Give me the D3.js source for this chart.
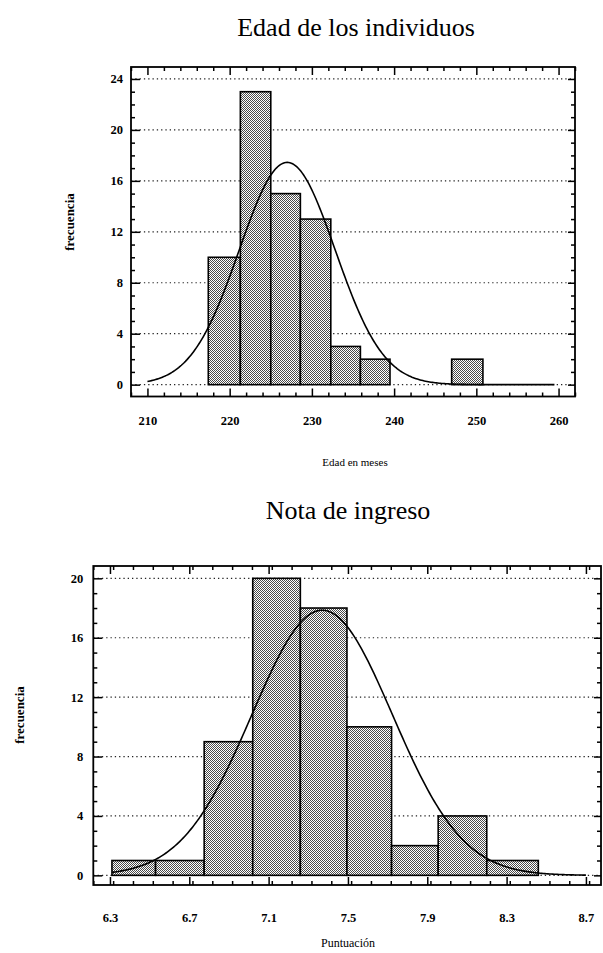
<!DOCTYPE html>
<html><head><meta charset="utf-8">
<script src="https://cdn.jsdelivr.net/npm/d3@7/dist/d3.min.js"></script>
<style>
body{margin:0;background:#fff;}
svg{display:block;}
.tick text{font-family:"Liberation Serif","Times New Roman",serif;font-weight:bold;font-size:12.5px;fill:#000;}
.domain{display:none;}
</style></head>
<body>
<svg id="c" width="603" height="953"></svg>
<script>
// ---------- Data: Edad de los individuos ----------
const edadEdges = [217.4, 221.3, 225.0, 228.6, 232.3, 235.9, 239.5, 243.2, 247.0, 250.8];
const edadCounts = [10, 23, 15, 13, 3, 2, 0, 0, 2];
const edadXTicks = [210, 220, 230, 240, 250, 260];
const edadYTicks = [0, 4, 8, 12, 16, 20, 24];
const edadFit = {n: 68, binWidth: 3.75, mean: 227.0, sd: 5.83, from: 210, to: 259.5};

// ---------- Data: Nota de ingreso ----------
const notaEdges = [6.31, 6.53, 6.775, 7.02, 7.26, 7.495, 7.72, 7.955, 8.2, 8.46];
const notaCounts = [1, 1, 9, 20, 18, 10, 2, 4, 1];
const notaXTicks = [6.3, 6.7, 7.1, 7.5, 7.9, 8.3, 8.7];
const notaYTicks = [0, 4, 8, 12, 16, 20];
const notaFit = {n: 66, binWidth: 0.24, mean: 7.37, sd: 0.354, from: 6.31, to: 8.7};

const svg = d3.select("#c");
const defs = svg.append("defs");
const pat = defs.append("pattern").attr("id","stip").attr("width",2).attr("height",2)
  .attr("patternUnits","userSpaceOnUse");
pat.append("rect").attr("width",2).attr("height",2).attr("fill","#fff");
pat.append("rect").attr("x",0).attr("y",0).attr("width",1).attr("height",1).attr("fill","#4a4a4a");
pat.append("rect").attr("x",1).attr("y",1).attr("width",1).attr("height",1).attr("fill","#4a4a4a");

function histogram(cfg){
  const g = svg.append("g");
  const x = d3.scaleLinear().domain(cfg.xDomain).range([cfg.left, cfg.right]);
  const y = d3.scaleLinear().domain(cfg.yDomain).range([cfg.bottom, cfg.top]);

  // dotted gridlines
  g.selectAll("line.grid").data(cfg.yTicks).enter().append("line")
    .attr("x1", cfg.left).attr("x2", cfg.right)
    .attr("y1", d=>y(d)).attr("y2", d=>y(d))
    .attr("stroke","#222").attr("stroke-width",1.2).attr("stroke-dasharray","1.3,3");

  // bars
  const bins = cfg.counts.map((c,i)=>({x0:cfg.edges[i], x1:cfg.edges[i+1], c}));
  g.selectAll("rect.bar").data(bins.filter(b=>b.c>0)).enter().append("rect")
    .attr("x", d=>x(d.x0)).attr("width", d=>x(d.x1)-x(d.x0))
    .attr("y", d=>y(d.c)).attr("height", d=>y(0)-y(d.c))
    .attr("fill","url(#stip)").attr("stroke","#000").attr("stroke-width",1.6);

  // fitted normal curve
  const f = cfg.fit;
  const step = (f.to - f.from)/300;
  const pts = d3.range(f.from, f.to + step/2, step).map(v=>{
    const z = (v - f.mean)/f.sd;
    return [v, f.n*f.binWidth*Math.exp(-0.5*z*z)/(f.sd*Math.sqrt(2*Math.PI))];
  });
  g.append("path").datum(pts)
    .attr("d", d3.line().x(d=>x(d[0])).y(d=>y(d[1])))
    .attr("fill","none").attr("stroke","#000").attr("stroke-width",1.6);

  // frame
  g.append("rect").attr("x",cfg.left).attr("y",cfg.top)
    .attr("width",cfg.right-cfg.left).attr("height",cfg.bottom-cfg.top)
    .attr("fill","none").attr("stroke","#000").attr("stroke-width",1.8);

  const yMinor = d3.range(Math.ceil(cfg.yDomain[0]), Math.floor(cfg.yDomain[1])+1, 1).filter(v=>!cfg.yTicks.includes(v));
  const xMinor = d3.range(cfg.xDomain[0], cfg.xDomain[1]+1e-9, cfg.xMinorStep)
    .map(v=>+v.toFixed(3)).filter(v=>v>=cfg.xDomain[0] && !cfg.xTicks.some(t=>Math.abs(t-v)<1e-6));

  function ax(axisFn, scale, vals, size, pos, labels, pad, fmt){
    const a = axisFn(scale).tickValues(vals).tickSize(size).tickPadding(pad);
    if(!labels) a.tickFormat("");
    else a.tickFormat(fmt);
    const s = g.append("g").attr("transform", pos).call(a);
    s.selectAll(".tick line").attr("stroke","#000").attr("stroke-width",1.5);
    return s;
  }
  // left
  ax(d3.axisLeft, y, cfg.yTicks, -9, `translate(${cfg.left},0)`, true, cfg.yPad, d3.format("d"));
  ax(d3.axisLeft, y, yMinor, -4, `translate(${cfg.left},0)`, false, 0);
  // right
  ax(d3.axisRight, y, cfg.yTicks, -7, `translate(${cfg.right},0)`, false, 0);
  ax(d3.axisRight, y, yMinor, -4, `translate(${cfg.right},0)`, false, 0);
  // bottom
  ax(d3.axisBottom, x, cfg.xTicks, -8, `translate(0,${cfg.bottom})`, true, cfg.xPad, cfg.xFmt);
  ax(d3.axisBottom, x, xMinor, -4, `translate(0,${cfg.bottom})`, false, 0);
  // top
  ax(d3.axisTop, x, cfg.xTicks, -8, `translate(0,${cfg.top})`, false, 0);
  ax(d3.axisTop, x, xMinor, -4, `translate(0,${cfg.top})`, false, 0);

  // titles
  svg.append("text").attr("x",cfg.titleX).attr("y",cfg.titleY).attr("text-anchor","middle")
    .attr("font-family","'Liberation Serif','Times New Roman',serif").attr("font-size",26)
    .text(cfg.title);
  svg.append("text").attr("x",cfg.xTitleX).attr("y",cfg.xTitleY).attr("text-anchor","middle")
    .attr("font-family","'Liberation Serif','Times New Roman',serif").attr("font-size",cfg.xTitleSize)
    .text(cfg.xTitle);
  svg.append("text").attr("transform",`translate(${cfg.yTitleX},${cfg.yTitleY}) rotate(-90)`)
    .attr("text-anchor","middle")
    .attr("font-family","'Liberation Serif','Times New Roman',serif").attr("font-size",13)
    .attr("font-weight","bold")
    .text("frecuencia");
}

histogram({
  left:131, right:575, top:67, bottom:396.5,
  xDomain:[208, 262], yDomain:[-0.93, 24.94],
  edges:edadEdges, counts:edadCounts, xTicks:edadXTicks, yTicks:edadYTicks,
  xMinorStep:2, fit:edadFit, yPad:8, xPad:20, xFmt:d3.format("d"),
  title:"Edad de los individuos", titleX:356, titleY:36,
  xTitle:"Edad en meses", xTitleX:355, xTitleY:466, xTitleSize:11,
  yTitleX:74, yTitleY:222
});

histogram({
  left:93.3, right:601, top:566, bottom:885,
  xDomain:[6.216, 8.776], yDomain:[-0.65, 20.83],
  edges:notaEdges, counts:notaCounts, xTicks:notaXTicks, yTicks:notaYTicks,
  xMinorStep:0.1, fit:notaFit, yPad:10, xPad:28, xFmt:d3.format(".1f"),
  title:"Nota de ingreso", titleX:348, titleY:519,
  xTitle:"Puntuación", xTitleX:348, xTitleY:947, xTitleSize:12,
  yTitleX:24, yTitleY:715
});
</script>
</body></html>
